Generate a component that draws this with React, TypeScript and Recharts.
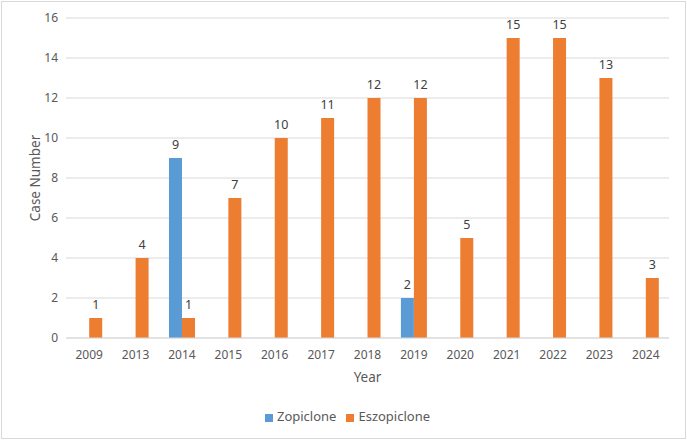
import { BarChart, Bar, XAxis, YAxis, CartesianGrid, Legend, LabelList } from "recharts";

const years = ["2009", "2013", "2014", "2015", "2016", "2017", "2018", "2019", "2020", "2021", "2022", "2023", "2024"];
const zopiclone = [null, null, 9, null, null, null, null, 2, null, null, null, null, null];
const eszopiclone = [1, 4, 1, 7, 10, 11, 12, 12, 5, 15, 15, 13, 3];
const yTicks = [0, 2, 4, 6, 8, 10, 12, 14, 16];
const seriesOrder = ["Zopiclone", "Eszopiclone"];

const data = years.map((year, i) => ({
  year,
  zopiclone: zopiclone[i],
  eszopiclone: eszopiclone[i],
}));

const font = "'Noto Sans', sans-serif";
const tickStyle = { fill: "#595959", fontSize: 12, fontFamily: font };
const labelStyle = { fill: "#404040", fontSize: 12.5, fontFamily: font };

export default function App() {
  return (
    <div
      style={{
        position: "absolute",
        left: 0,
        top: 0,
        width: 687,
        height: 441,
        background: "#fff",
      }}
    >
      <div
        style={{
          position: "absolute",
          left: 1,
          top: 1,
          width: 683,
          height: 436,
          border: "1px solid #d9d9d9",
        }}
      />
      <BarChart
        width={687}
        height={441}
        data={data}
        margin={{ top: 18, right: 18, left: 0, bottom: 16 }}
        barGap={0}
        barCategoryGap="22%"
      >
        <CartesianGrid vertical={false} stroke="#d9d9d9" />
        <XAxis
          dataKey="year"
          tick={tickStyle}
          tickLine={false}
          axisLine={{ stroke: "#d9d9d9" }}
          height={69}
          tickMargin={6}
          label={{
            value: "Year",
            position: "insideBottom",
            offset: 25,
            style: { fill: "#595959", fontSize: 13.5, fontFamily: font },
          }}
        />
        <YAxis
          width={66}
          domain={[0, 16]}
          ticks={yTicks}
          tick={tickStyle}
          tickLine={false}
          axisLine={false}
          label={{
            value: "Case Number",
            angle: -90,
            position: "insideLeft",
            offset: 35,
            style: { fill: "#595959", fontSize: 13.5, fontFamily: font, textAnchor: "middle" },
          }}
        />
        <Legend
          verticalAlign="bottom"
          iconType="square"
          iconSize={8}
          itemSorter={(item) => seriesOrder.indexOf(String(item.value))}
          wrapperStyle={{ fontSize: 13, fontFamily: font, color: "#595959", paddingLeft: 18 }}
          formatter={(value) => <span style={{ color: "#595959" }}>{value}</span>}
        />
        <Bar dataKey="zopiclone" name="Zopiclone" fill="#5B9BD5" isAnimationActive={false}>
          <LabelList dataKey="zopiclone" position="top" offset={9} style={labelStyle} />
        </Bar>
        <Bar dataKey="eszopiclone" name="Eszopiclone" fill="#ED7D31" isAnimationActive={false}>
          <LabelList dataKey="eszopiclone" position="top" offset={9} style={labelStyle} />
        </Bar>
      </BarChart>
    </div>
  );
}
